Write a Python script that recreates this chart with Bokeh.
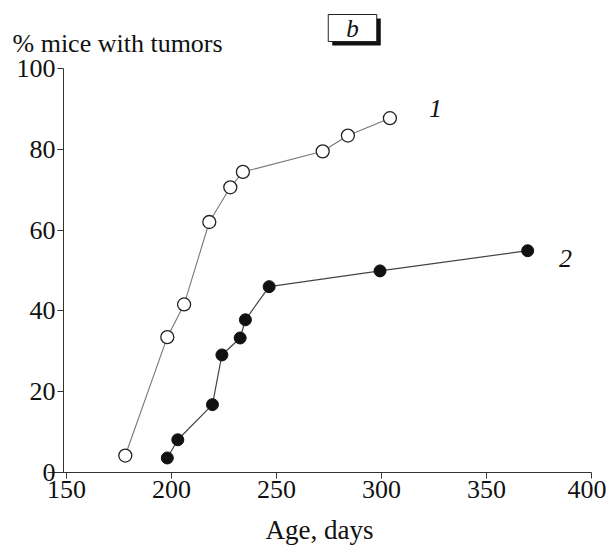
from bokeh.plotting import figure
from bokeh.models import Label, Range1d, ColumnDataSource, LinearAxis, FixedTicker
from bokeh.embed import file_html
from bokeh.resources import INLINE

# Series 1 (open circles)
age_1 = [178, 198, 206, 218, 228, 234, 272, 284, 304]
pct_1 = [4.2, 33.5, 41.6, 62.0, 70.6, 74.4, 79.5, 83.4, 87.7]
# Series 2 (filled circles)
age_2 = [198, 203, 219.5, 224, 232.7, 235.2, 246.5, 299.3, 369.6]
pct_2 = [3.6, 8.1, 16.8, 29.1, 33.3, 37.8, 46.0, 49.9, 54.9]

x_ticks = [150, 200, 250, 300, 350, 400]
y_ticks = [0, 20, 40, 60, 80, 100]

SERIF = "Liberation Serif"

W, H = 606, 545
# pixel geometry of the plot area (screen px from top-left)
PX_X150, PX_PER_DAY = 66.0, 2.1
PY_Y0, PY_PER_PCT = 472.0, 4.04


def dx(px):
    return 150 + (px - PX_X150) / PX_PER_DAY


def dy(py):
    return (PY_Y0 - py) / PY_PER_PCT


p = figure(width=W, height=H, min_border=0,
           x_range=Range1d(dx(0), dx(W)), y_range=Range1d(dy(H), dy(0)),
           x_axis_location=None, y_axis_location=None, title_location=None,
           output_backend="svg", toolbar_location=None)

p.xgrid.visible = False
p.ygrid.visible = False
p.outline_line_color = None
p.background_fill_color = "white"
p.border_fill_color = "white"

xaxis = LinearAxis(fixed_location=0, bounds=(dx(47), 400),
                   ticker=FixedTicker(ticks=x_ticks))
yaxis = LinearAxis(fixed_location=dx(63), bounds=(0, 100),
                   ticker=FixedTicker(ticks=y_ticks))
for ax in (xaxis, yaxis):
    ax.axis_line_color = "#333333"
    ax.axis_line_width = 1
    ax.major_tick_line_color = "#333333"
    ax.major_tick_out = 6
    ax.major_tick_in = 0
    ax.minor_tick_line_color = None
    ax.major_label_text_font = SERIF
    ax.major_label_text_font_size = "26px"
    ax.major_label_text_color = "#111111"
    ax.major_label_standoff = 2

xaxis.axis_label = "Age, days"
xaxis.axis_label_text_font = SERIF
xaxis.axis_label_text_font_size = "27px"
xaxis.axis_label_text_font_style = "normal"
xaxis.axis_label_text_color = "#111111"
xaxis.axis_label_standoff = 14

p.add_layout(xaxis, "below")
p.add_layout(yaxis, "left")

s1 = ColumnDataSource(dict(x=age_1, y=pct_1))
s2 = ColumnDataSource(dict(x=age_2, y=pct_2))

p.line("x", "y", source=s1, line_color="#777777", line_width=1.1)
p.line("x", "y", source=s2, line_color="#444444", line_width=1.2)
p.scatter("x", "y", source=s1, marker="circle", size=13,
          fill_color="white", line_color="#222222", line_width=1.3)
p.scatter("x", "y", source=s2, marker="circle", size=12,
          fill_color="#111111", line_color="#111111", line_width=1)

# Curve labels
p.add_layout(Label(x=dx(435), y=dy(108), text="1", text_font=SERIF,
                   text_font_size="26px", text_font_style="italic",
                   text_align="center", text_baseline="middle",
                   text_color="#111111"))
p.add_layout(Label(x=dx(565), y=dy(258), text="2", text_font=SERIF,
                   text_font_size="26px", text_font_style="italic",
                   text_align="center", text_baseline="middle",
                   text_color="#111111"))

# Y axis title on top
p.add_layout(Label(x=dx(12), y=dy(43), text="% mice with tumors",
                   text_font=SERIF, text_font_size="26px",
                   text_align="left", text_baseline="alphabetic",
                   text_color="#111111"))

# Panel letter box with shadow
box_pad = dict(left=18, right=18, top=0, bottom=0)
p.add_layout(Label(x=dx(352), y=dy(27.5), x_offset=4, y_offset=-4, text="b",
                   text_font=SERIF, text_font_size="25px", text_font_style="italic",
                   text_align="center", text_baseline="middle",
                   text_color="#111111", background_fill_color="#111111",
                   padding=box_pad))
p.add_layout(Label(x=dx(352), y=dy(27.5), text="b",
                   text_font=SERIF, text_font_size="25px", text_font_style="italic",
                   text_align="center", text_baseline="middle",
                   text_color="#111111", background_fill_color="white",
                   border_line_color="#222222", border_line_width=1,
                   padding=box_pad))

open("out.html", "w").write(file_html(p, INLINE))
